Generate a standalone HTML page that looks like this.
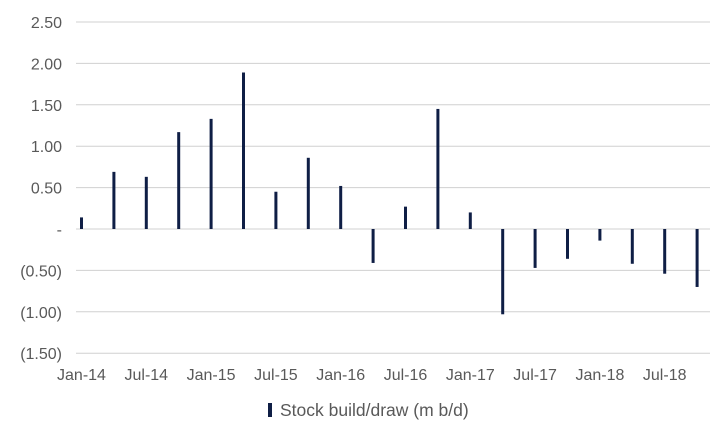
<!DOCTYPE html>
<html><head><meta charset="utf-8"><style>
body{margin:0;background:#fff;}
svg{display:block;font-family:"Liberation Sans",sans-serif;}
</style></head><body>
<svg id="chart" width="723" height="440"></svg>
<script>
const categories=["Jan-14","Apr-14","Jul-14","Oct-14","Jan-15","Apr-15","Jul-15","Oct-15","Jan-16","Apr-16","Jul-16","Oct-16","Jan-17","Apr-17","Jul-17","Oct-17","Jan-18","Apr-18","Jul-18","Oct-18"];
const values=[0.14,0.69,0.63,1.17,1.33,1.89,0.45,0.86,0.52,-0.41,0.27,1.45,0.20,-1.03,-0.47,-0.36,-0.14,-0.42,-0.54,-0.70];
const yTicks=[2.5,2.0,1.5,1.0,0.5,0,-0.5,-1.0,-1.5];
const yTickLabels=["2.50","2.00","1.50","1.00","0.50","-","(0.50)","(1.00)","(1.50)"];
const xLabelIdx=[0,2,4,6,8,10,12,14,16,18];

const NS="http://www.w3.org/2000/svg";
const svg=document.getElementById('chart');
const y=v=>229-(v*82.8);
const x=i=>81.5+i*32.4;
function mk(t,a){const e=document.createElementNS(NS,t);for(const k in a)e.setAttribute(k,a[k]);svg.appendChild(e);return e;}
yTicks.forEach((v,i)=>{
  const g=mk('line',{x1:76,x2:710,y1:y(v),y2:y(v),stroke:'#d0d0d0','stroke-width':1});
  
  
  const t=mk('text',{x:62,y:y(v)+6,'text-anchor':'end','font-size':16,fill:'#595959'});
  t.textContent=yTickLabels[i];
  
  
});
values.forEach((v,i)=>{
  const top=Math.min(y(v),y(0)),h=Math.abs(y(v)-y(0));
  const r=mk('rect',{x:x(i)-1.5,y:top,width:3,height:h,fill:'#0f1e45'});
  
  
});
xLabelIdx.forEach(i=>{
  const t=mk('text',{x:x(i),y:380,'text-anchor':'middle','font-size':16,fill:'#595959'});
  t.textContent=categories[i];
  
  
});
const lm=mk('rect',{x:268,y:403,width:4,height:14,fill:'#0f1e45'});


const lt=mk('text',{x:280,y:416,'font-size':17.5,fill:'#595959'});
lt.textContent="Stock build/draw (m b/d)";


</script>
</body></html>
